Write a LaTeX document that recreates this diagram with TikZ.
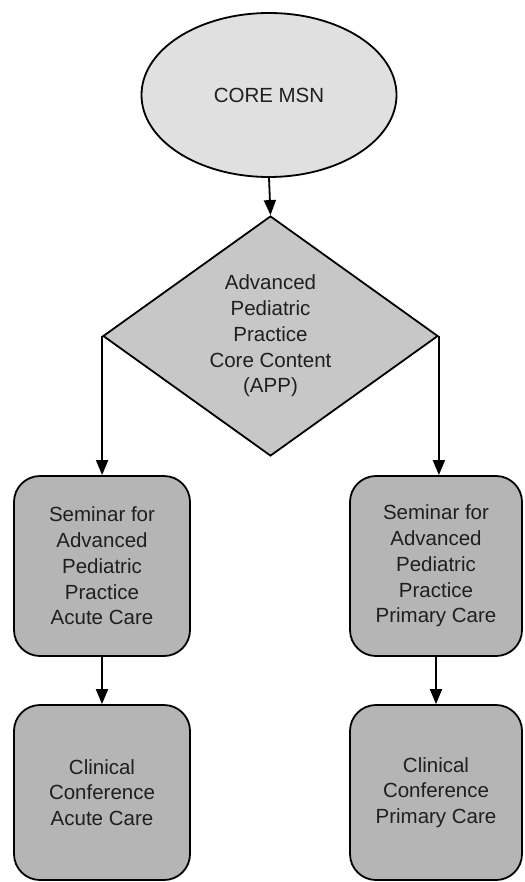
\documentclass[tikz,border=0pt]{standalone}
\usepackage{fontspec}
\setmainfont{Liberation Sans}
\usetikzlibrary{shapes.geometric,arrows.meta}
\definecolor{ellfill}{gray}{0.88}
\definecolor{diafill}{gray}{0.78}
\definecolor{boxfill}{gray}{0.71}
\definecolor{txt}{gray}{0.12}
\begin{document}
\begin{tikzpicture}[x=1pt,y=-1pt,
  every node/.style={font=\fontsize{20.5}{25.8}\selectfont, text=txt, align=center, line width=1.8pt, draw=black, inner sep=0pt},
  ellnode/.style={ellipse, fill=ellfill, minimum width=255pt, minimum height=164pt},
  dianode/.style={diamond, fill=diafill, minimum width=335pt, minimum height=240pt, aspect=1.39},
  boxnode/.style={rectangle, rounded corners=26pt, fill=boxfill, minimum height=180pt},
  cboxnode/.style={rectangle, rounded corners=26pt, fill=boxfill, minimum height=175pt},
  conn/.style={line width=1.8pt, -{Triangle[length=15pt,width=12pt]}}]
\useasboundingbox (0,0) rectangle (524,882);
\node[ellnode] (core) at (269,95) {CORE MSN};
\node[dianode] (app) at (270.5,336) {Advanced\\Pediatric\\Practice\\Core Content\\(APP)};
\node[boxnode, minimum width=176pt] (sa) at (102,566) {Seminar for\\Advanced\\Pediatric\\Practice\\Acute Care};
\node[boxnode, minimum width=172pt] (sp) at (436,566) {Seminar for\\Advanced\\Pediatric\\Practice\\Primary Care};
\node[cboxnode, minimum width=176pt] (ca) at (102,792.5) {Clinical\\Conference\\Acute Care};
\node[cboxnode, minimum width=172pt] (cp) at (436,792.5) {Clinical\\Conference\\Primary Care};
\draw[conn] (core.south) -- (app.north);
\draw[conn] (app.west) -- (app.west |- sa.north);
\draw[conn] (app.east) -- (app.east |- sp.north);
\draw[conn] (sa.south) -- (ca.north);
\draw[conn] (sp.south) -- (cp.north);
\end{tikzpicture}
\end{document}
